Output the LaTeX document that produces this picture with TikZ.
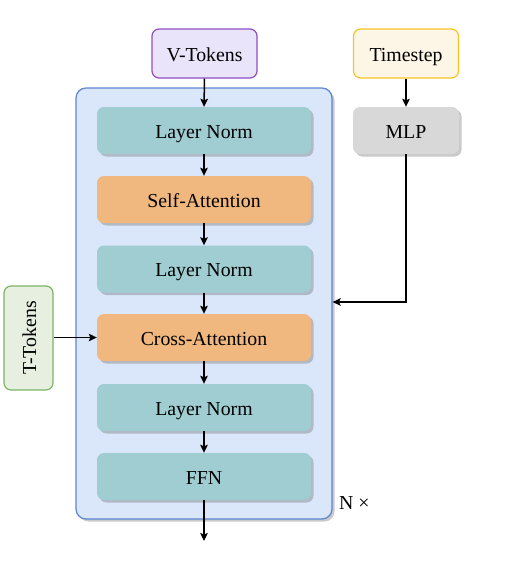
\documentclass[tikz,border=0pt]{standalone}
\usepackage{fontspec}
\setmainfont{Liberation Serif}
\usetikzlibrary{shadows,arrows.meta,positioning}
\definecolor{tealfill}{HTML}{9FCDD2}
\definecolor{orangefill}{HTML}{F0B77E}
\definecolor{contfill}{HTML}{DAE7FA}
\definecolor{contline}{HTML}{5B86CF}
\definecolor{vfill}{HTML}{EAE4FB}
\definecolor{vline}{HTML}{8E4EC2}
\definecolor{tsfill}{HTML}{FDF5E6}
\definecolor{tsline}{HTML}{F7C325}
\definecolor{mlpfill}{HTML}{D8D8D8}
\definecolor{tfill}{HTML}{E6EFE0}
\definecolor{tline}{HTML}{7DB466}
\begin{document}
\begin{tikzpicture}[x=1pt,y=1pt,
  font=\fontsize{19.8}{23}\selectfont,
  shad/.style={drop shadow={shadow xshift=2.5pt,shadow yshift=-2.5pt,opacity=0.35,fill=black!60}},
  txt/.style={text height=15pt,text depth=0pt},
  blk/.style={shad,txt,rounded corners=7pt,minimum width=214pt,minimum height=47pt,inner sep=0pt},
  normbox/.style={blk,fill=tealfill},
  attbox/.style={blk,fill=orangefill},
  inbox/.style={txt,rounded corners=7pt,line width=1.2pt,minimum width=105pt,minimum height=49pt,inner sep=0pt},
  arr/.style={line width=1.5pt,-{Stealth[length=8pt,width=7.5pt,inset=1.5pt]}}
]
\useasboundingbox (0,0) rectangle (507,-576);
% container
\node[shad,draw=contline,fill=contfill,line width=1.2pt,rounded corners=10pt,minimum width=256pt,minimum height=431pt,inner sep=0pt] (cont) at (204,-303.5) {};
\node[inbox,draw=vline,fill=vfill] (vt) at (204.5,-53.5) {V-Tokens};
\node[inbox,draw=tsline,fill=tsfill] (ts) at (406,-53.5) {Timestep};
\node[shad,txt,rounded corners=7pt,fill=mlpfill,minimum width=106pt,minimum height=47pt,inner sep=0pt] (mlp) at (406,-130.5) {MLP};
\node[inbox,draw=tline,fill=tfill,minimum width=49pt,minimum height=104pt] (tt) at (28.5,-338) {};
\node[rotate=90,txt,inner sep=0pt] (ttl) at (tt.center) {T-Tokens};
\node[normbox] (ln1) at (204,-130.5) {Layer Norm};
\node[attbox] (sa) at (204,-199.5) {Self-Attention};
\node[normbox] (ln2) at (204,-269) {Layer Norm};
\node[attbox] (ca) at (204,-337.5) {Cross-Attention};
\node[normbox] (ln3) at (204,-407.5) {Layer Norm};
\node[normbox] (ffn) at (204,-476.5) {FFN};
\node[anchor=west,inner sep=0pt,txt] (nx) at (339,-502) {N ×};
\coordinate (out) at (204,-541);
\coordinate (mlpin) at (cont.east |- 0,-302);
% arrows
\draw[arr] (vt.south) -- (ln1.north);
\draw[arr] (ln1.south) -- (sa.north);
\draw[arr] (sa.south) -- (ln2.north);
\draw[arr] (ln2.south) -- (ca.north);
\draw[arr] (ca.south) -- (ln3.north);
\draw[arr] (ln3.south) -- (ffn.north);
\draw[arr] (ffn.south) -- (out);
\draw[arr] (ts.south) -- (mlp.north);
\draw[arr] (mlp.south) |- (mlpin);
\draw[arr] (tt.east |- ca.west) -- (ca.west);
\end{tikzpicture}
\end{document}
